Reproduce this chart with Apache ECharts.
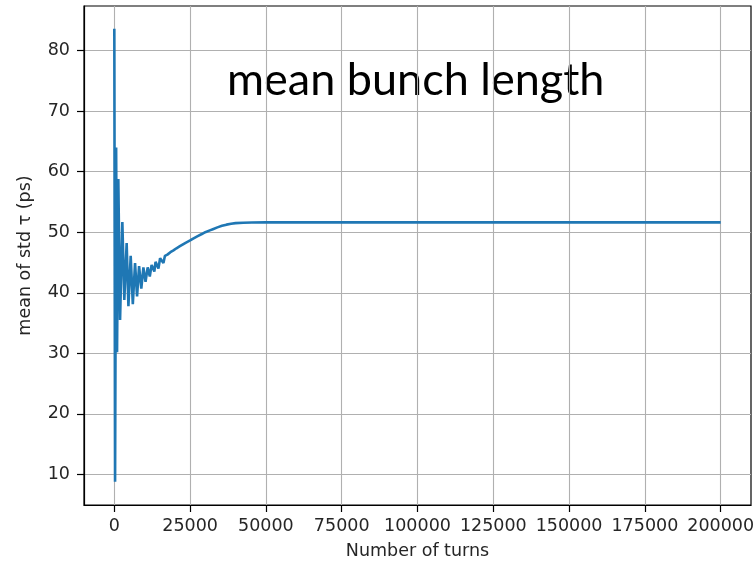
<!DOCTYPE html>
<html>
<head>
<meta charset="utf-8">
<script src="https://cdn.jsdelivr.net/npm/echarts@6/dist/echarts.min.js"></script>
<style>
html,body{margin:0;padding:0;background:#fff;}
#chart{width:756px;height:564px;}
</style>
</head>
<body>
<div id="chart"></div>
<script>
// ---- data ----
var turns = [0, 250, 600, 900, 1320, 1900, 2650, 3300, 4070, 4650, 5400, 6100, 6840, 7500, 8170, 8900,
  9590, 10300, 11000, 11700, 12300, 13200, 13600, 14550, 15100, 16200, 16700, 17500, 18500, 19500,
  20500, 21500, 22500, 23500, 25000, 26000, 27500, 28870, 30000, 31500, 32500, 34000, 35500, 37000,
  38500, 40000, 42500, 45400, 50000, 60000, 75000, 100000, 125000, 150000, 175000, 199999];
var meanStd = [83.6, 8.8, 64.0, 30.2, 58.8, 35.5, 51.7, 38.8, 48.2, 37.8, 46.1, 38.1, 44.9, 39.4, 44.4, 40.7,
  44.2, 41.8, 44.2, 42.7, 44.6, 43.5, 45.1, 44.0, 45.7, 44.9, 46.1, 46.3, 46.7, 47.0,
  47.35, 47.65, 47.95, 48.25, 48.65, 48.95, 49.35, 49.7, 50.0, 50.3, 50.5, 50.8, 51.05, 51.25,
  51.4, 51.5, 51.57, 51.6, 51.63, 51.63, 51.63, 51.63, 51.63, 51.63, 51.63, 51.63];
var xTicks = [0, 25000, 50000, 75000, 100000, 125000, 150000, 175000, 200000];
var yTicks = [10, 20, 30, 40, 50, 60, 70, 80];
var xTitle = 'Number of turns';
var yTitle = 'mean of std \u03c4 (ps)';
var overlayTitle = 'mean bunch length';

var seriesData = turns.map(function (t, i) { return [t, meanStd[i]]; });

var chart = echarts.init(document.getElementById('chart'), null, {renderer: 'canvas'});
var tickFont = {fontFamily: 'DejaVu Sans', fontSize: 17.5, color: '#262626'};
chart.setOption({
  animation: false,
  backgroundColor: '#fff',
  grid: {left: 84, right: 5, top: 6, bottom: 59, show: true, borderColor: '#000', borderWidth: 1.2,
         containLabel: false, outerBoundsMode: 'none'},
  xAxis: {
    type: 'value', min: -10000, max: 210000,
    name: xTitle, nameLocation: 'middle', nameGap: 37,
    nameTextStyle: {fontFamily: 'DejaVu Sans', fontSize: 17.5, color: '#262626'},
    axisLine: {show: true, onZero: false, lineStyle: {color: '#000', width: 1.2}},
    axisTick: {show: true, length: 7, inside: false, customValues: xTicks, lineStyle: {color: '#000', width: 1.2}},
    axisLabel: Object.assign({margin: 12, customValues: xTicks, hideOverlap: false,
      formatter: function (v) { return String(v); }}, tickFont),
    splitLine: {show: true, lineStyle: {color: '#b0b0b0', width: 1.1}}
  },
  yAxis: {
    type: 'value', min: 4.96, max: 87.35,
    name: yTitle, nameLocation: 'middle', nameGap: 50, nameRotate: 90,
    nameTextStyle: {fontFamily: 'DejaVu Sans', fontSize: 17.5, color: '#262626'},
    axisLine: {show: true, onZero: false, lineStyle: {color: '#000', width: 1.2}},
    axisTick: {show: true, length: 7, inside: false, customValues: yTicks, lineStyle: {color: '#000', width: 1.2}},
    axisLabel: Object.assign({margin: 14, customValues: yTicks,
      formatter: function (v) { return String(v); }}, tickFont),
    splitLine: {show: true, lineStyle: {color: '#b0b0b0', width: 1.1}}
  },
  series: [{
    type: 'line', data: seriesData, showSymbol: false, symbol: 'none',
    lineStyle: {color: '#1f77b4', width: 2.6}, clip: true
  }],
  graphic: [{
    type: 'text', left: 227, top: 58,
    style: {text: overlayTitle, font: '45px Lato', fill: '#000'}
  }]
});
</script>
</body>
</html>
